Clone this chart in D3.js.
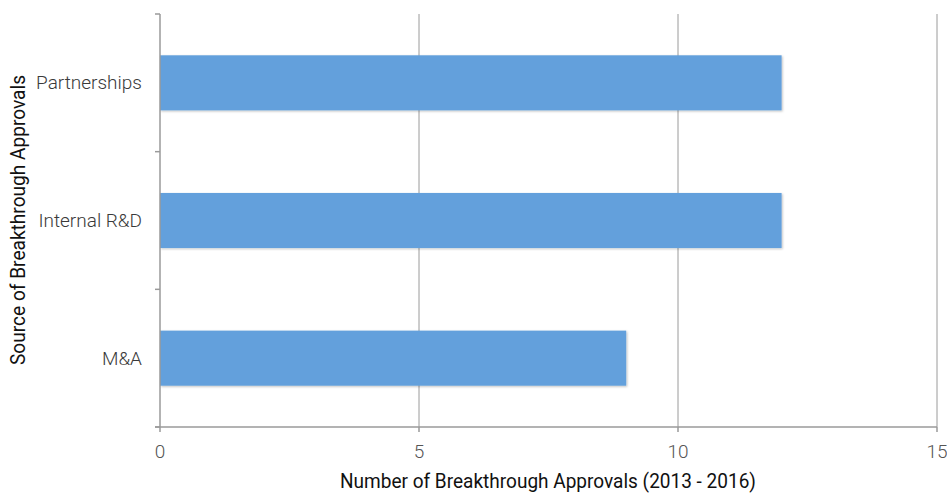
<!DOCTYPE html>
<html>
<head>
<meta charset="utf-8">
<script src="https://cdn.jsdelivr.net/npm/d3@7"></script>
<style>
  body { margin: 0; background: #fff; }
  svg { display: block; font-family: Roboto, "Open Sans", sans-serif; }
  .cat-label { font-size: 19px; fill: #3a3a3a; font-weight: 300; }
  .tick-label { font-size: 19px; fill: #555; font-weight: 300; }
  .axis-title { font-size: 20px; fill: #111; }
</style>
</head>
<body>
<svg id="chart" width="947" height="493"></svg>
<script>
var categories = ["Partnerships", "Internal R&D", "M&A"];
var approvals = [12, 12, 9];
var xTicks = [0, 5, 10, 15];

var svg = d3.select("#chart");
var margin = {top: 14, right: 10, bottom: 66, left: 160};
var width = 947 - margin.left - margin.right;
var height = 493 - margin.top - margin.bottom;

var x = d3.scaleLinear().domain([0, 15]).range([0, width]);
var y = d3.scaleBand().domain(categories).range([0, height])
  .paddingInner(0.6).paddingOuter(0.3);

var g = svg.append("g")
  .attr("transform", "translate(" + margin.left + "," + margin.top + ")");

// shadow filter for bars
var defs = svg.append("defs");
var filter = defs.append("filter").attr("id", "shadow")
  .attr("x", "-5%").attr("y", "-10%").attr("width", "110%").attr("height", "130%");
filter.append("feDropShadow")
  .attr("dx", 1).attr("dy", 1).attr("stdDeviation", 1)
  .attr("flood-color", "#000").attr("flood-opacity", 0.25);

// vertical grid lines
g.selectAll(".grid")
  .data(xTicks.filter(function(d) { return d > 0; }))
  .enter().append("line")
  .attr("x1", function(d) { return x(d); })
  .attr("x2", function(d) { return x(d); })
  .attr("y1", 0)
  .attr("y2", height)
  .attr("stroke", "#9a9a9a")
  .attr("stroke-width", 1);

// bars
g.selectAll(".bar")
  .data(approvals)
  .enter().append("rect")
  .attr("x", x(0))
  .attr("y", function(d, i) { return y(categories[i]); })
  .attr("width", function(d) { return x(d) - x(0); })
  .attr("height", y.bandwidth())
  .attr("fill", "#63a0dc")
  .attr("filter", "url(#shadow)");

// y axis line and band-boundary ticks
var step = height / categories.length;
var yTickPos = d3.range(categories.length + 1).map(function(i) { return i * step; });
g.append("line")
  .attr("x1", 0).attr("x2", 0).attr("y1", 0).attr("y2", height)
  .attr("stroke", "#9a9a9a").attr("stroke-width", 1.5);
g.selectAll(".ytick")
  .data(yTickPos)
  .enter().append("line")
  .attr("x1", -5).attr("x2", 0)
  .attr("y1", function(d) { return d; })
  .attr("y2", function(d) { return d; })
  .attr("stroke", "#9a9a9a").attr("stroke-width", 1.5);

// x axis line and ticks
g.append("line")
  .attr("x1", -5).attr("x2", width).attr("y1", height).attr("y2", height)
  .attr("stroke", "#9a9a9a").attr("stroke-width", 1.5);
g.selectAll(".xtick")
  .data(xTicks)
  .enter().append("line")
  .attr("x1", function(d) { return x(d); })
  .attr("x2", function(d) { return x(d); })
  .attr("y1", height).attr("y2", height + 5)
  .attr("stroke", "#9a9a9a").attr("stroke-width", 1.5);

// tick labels
g.selectAll(".tick-label")
  .data(xTicks)
  .enter().append("text")
  .attr("class", "tick-label")
  .attr("x", function(d) { return x(d); })
  .attr("y", height + 31)
  .attr("text-anchor", "middle")
  .text(function(d) { return d; });

// category labels
g.selectAll(".cat-label")
  .data(categories)
  .enter().append("text")
  .attr("class", "cat-label")
  .attr("x", -18)
  .attr("y", function(d) { return y(d) + y.bandwidth() / 2; })
  .attr("dy", "0.35em")
  .attr("text-anchor", "end")
  .text(function(d) { return d; });

// axis titles
svg.append("text")
  .attr("class", "axis-title")
  .attr("x", 548)
  .attr("y", 488)
  .attr("text-anchor", "middle")
  .attr("textLength", 416)
  .attr("lengthAdjust", "spacingAndGlyphs")
  .text("Number of Breakthrough Approvals (2013 - 2016)");

svg.append("text")
  .attr("class", "axis-title")
  .attr("transform", "translate(25,220) rotate(-90)")
  .attr("text-anchor", "middle")
  .attr("textLength", 290)
  .attr("lengthAdjust", "spacingAndGlyphs")
  .text("Source of Breakthrough Approvals");
</script>
</body>
</html>
